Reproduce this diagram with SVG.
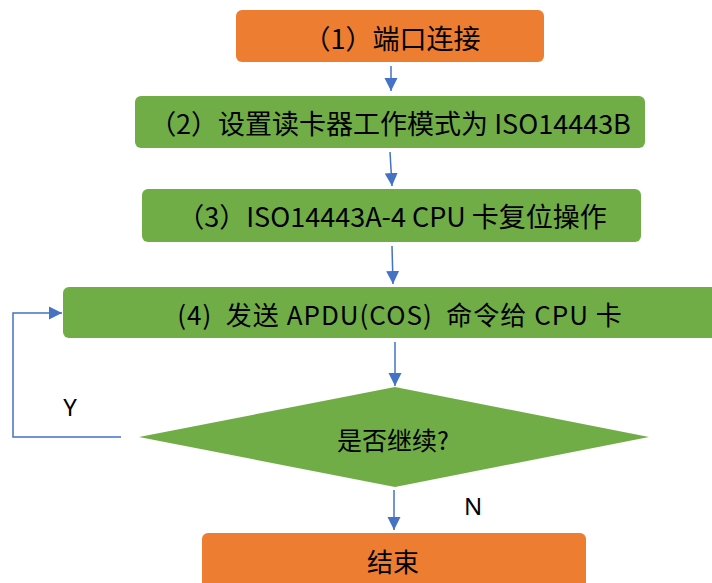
<svg xmlns="http://www.w3.org/2000/svg" width="712" height="583" viewBox="0 0 712 583">
<style>
.o{fill:#ED7D31;}
.g{fill:#70AD47;}
.t{font-family:"Noto Sans CJK SC","Microsoft YaHei",sans-serif;fill:#000;text-anchor:middle;dominant-baseline:central;}
.l{font-family:"Noto Sans","Liberation Sans",sans-serif;font-size:24px;fill:#000;text-anchor:middle;dominant-baseline:central;}
.c{stroke:#4472C4;stroke-width:1.5;fill:none;}
</style>
<defs>
<marker id="ahb" viewBox="0 0 10 10" refX="10" refY="5" markerWidth="13" markerHeight="14" markerUnits="userSpaceOnUse" orient="auto">
<path d="M0,0 L10,5 L0,10 z" fill="#4472C4"/>
</marker>
</defs>
<g id="connectors">
<line class="c" x1="391" y1="66" x2="391" y2="91" marker-end="url(#ahb)"/>
<line class="c" x1="390" y1="152" x2="392" y2="186" marker-end="url(#ahb)"/>
<line class="c" x1="392" y1="246" x2="393" y2="284" marker-end="url(#ahb)"/>
<line class="c" x1="395" y1="342" x2="395" y2="386" marker-end="url(#ahb)"/>
<line class="c" x1="394" y1="490" x2="394" y2="530" marker-end="url(#ahb)"/>
<polyline class="c" points="121,437 13,437 13,313 62,313" marker-end="url(#ahb)"/>
</g>
<g id="n1">
<rect class="o" x="236" y="10" width="308" height="52" rx="6"/>
<text class="t" x="392" y="37" style="font-size:27px">（1）端口连接</text>
</g>
<g id="n2">
<rect class="g" x="135" y="96" width="510" height="52" rx="6"/>
<text class="t" x="390" y="122" style="font-size:27px">（2）设置读卡器工作模式为 ISO14443B</text>
</g>
<g id="n3">
<rect class="g" x="142" y="189" width="499" height="53" rx="6"/>
<text class="t" x="392" y="215" style="font-size:27px">（3）ISO14443A-4 CPU 卡复位操作</text>
</g>
<g id="n4">
<rect class="g" x="63" y="287" width="660" height="51" rx="6"/>
<text class="t" x="400" y="313" xml:space="preserve" style="font-size:26px;letter-spacing:1px">(4)  发送 APDU(COS)  命令给 CPU 卡</text>
</g>
<g id="n5">
<polygon class="g" points="395,387 649,437 395,487 139,437"/>
<text class="t" x="393" y="439" style="font-size:25px">是否继续?</text>
</g>
<g id="n6">
<rect class="o" x="202" y="533" width="384" height="60" rx="6"/>
<text class="t" x="393" y="560" style="font-size:26px">结束</text>
</g>
<text class="l" x="70" y="406">Y</text>
<text class="l" x="473" y="505">N</text>
</svg>
